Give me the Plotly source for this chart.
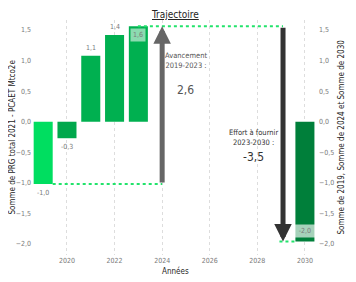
import plotly.graph_objects as go

years = [2019, 2020, 2021, 2022, 2023, 2030]
values = [-1.02, -0.27, 1.08, 1.42, 1.56, -1.96]
bar_colors = ["#00DE60", "#00A84C", "#00B050", "#00B050", "#00B050", "#007F3A"]
tick_vals = [-2.0, -1.5, -1.0, -0.5, 0.0, 0.5, 1.0, 1.5]
x_ticks = [2020, 2022, 2024, 2026, 2028, 2030]

title_text = "Trajectoire"
left_title = "Somme de PRG total 2021 - PCAET Mtco2e"
right_title = "Somme de 2019, Somme de 2024 et Somme de 2030"
x_title = "Années"

start_val = values[0]
mid_val = values[4]
end_val = values[-1]
progress = mid_val - start_val
effort = end_val - mid_val

FONT = "Liberation Sans Narrow, DejaVu Sans Condensed, Arial Narrow, sans-serif"
LBL = "#7a7a7a"

fig = go.Figure()
left_idx = [1, 2, 3, 4]
right_idx = [0, 5]
fig.add_trace(go.Bar(x=[years[i] for i in left_idx], y=[values[i] for i in left_idx],
                     marker=dict(color=[bar_colors[i] for i in left_idx], line=dict(width=0)),
                     width=0.8, yaxis="y", showlegend=False, hoverinfo="skip"))
fig.add_trace(go.Bar(x=[years[i] for i in right_idx], y=[values[i] for i in right_idx],
                     marker=dict(color=[bar_colors[i] for i in right_idx], line=dict(width=0)),
                     width=0.8, yaxis="y2", showlegend=False, hoverinfo="skip"))

ann = []
for i, (yr, v) in enumerate(zip(years, values)):
    txt = f"{v:.1f}".replace(".", ",")
    if i in (0, 1):
        ann.append(dict(x=yr, y=v, text=txt, showarrow=False, yshift=-9,
                        font=dict(size=7, color=LBL, family=FONT)))
    elif i in (2, 3):
        ann.append(dict(x=yr, y=v, text=txt, showarrow=False, yshift=8,
                        font=dict(size=7, color=LBL, family=FONT)))
    elif i == 4:
        ann.append(dict(x=yr, y=v, text=txt, showarrow=False, yshift=-9,
                        bgcolor="rgba(255,255,255,0.55)", borderpad=2,
                        font=dict(size=7, color=LBL, family=FONT)))
    else:
        ann.append(dict(x=yr, y=v, text=txt, showarrow=False, yshift=11,
                        bgcolor="rgba(255,255,255,0.65)", borderpad=2, width=16,
                        font=dict(size=7, color=LBL, family=FONT)))

arrow1_x = 2024
arrow2_x = years[-1] - 0.92
ann.append(dict(x=arrow1_x, y=mid_val, ax=arrow1_x, ay=start_val, xref="x", yref="y",
                axref="x", ayref="y", showarrow=True, arrowhead=2, arrowsize=0.7,
                arrowwidth=5, arrowcolor="#666666", text=""))
ann.append(dict(x=arrow2_x, y=end_val, ax=arrow2_x, ay=mid_val, xref="x", yref="y",
                axref="x", ayref="y", showarrow=True, arrowhead=2, arrowsize=0.7,
                arrowwidth=5, arrowcolor="#333333", text=""))

ann.append(dict(x=2025.0, y=1.0, text="Avancement<br>2019-2023 :", showarrow=False,
                xanchor="center", align="center", font=dict(size=7.5, color="#555555", family=FONT)))
ann.append(dict(x=2025.0, y=0.52, text=f"{progress:.1f}".replace(".", ","), showarrow=False,
                xanchor="center", font=dict(size=12, color="#555555", family=FONT)))
ann.append(dict(x=2027.85, y=-0.25, text="Effort à fournir<br>2023-2030 :", showarrow=False,
                xanchor="center", align="center", font=dict(size=7.5, color="#333333", family=FONT)))
ann.append(dict(x=2027.85, y=-0.57, text=f"{effort:.1f}".replace(".", ","), showarrow=False,
                xanchor="center", font=dict(size=12, color="#333333", family=FONT)))

ann.append(dict(x=0.5, y=1.0, xref="paper", yref="paper", yshift=6, yanchor="middle",
                xanchor="center", text=f"<u>{title_text}</u>",
                showarrow=False, font=dict(size=10, color="#252423", family=FONT)))
ann.append(dict(x=1.0, y=0.5, xref="paper", yref="paper", xshift=23, xanchor="center",
                yanchor="middle", text=right_title,
                textangle=-90, showarrow=False, font=dict(size=8, color="#252423", family=FONT)))
ann.append(dict(x=0.0, y=0.5, xref="paper", yref="paper", xshift=-20, xanchor="center",
                yanchor="middle", text=left_title,
                textangle=-90, showarrow=False, font=dict(size=8, color="#252423", family=FONT)))
ann.append(dict(x=0.5, y=0.0, xref="paper", yref="paper", yshift=-16, xanchor="center",
                yanchor="middle", text=x_title,
                showarrow=False, font=dict(size=8, color="#252423", family=FONT)))

shapes = [
    dict(type="line", x0=years[0] + 0.4, x1=arrow1_x, y0=start_val, y1=start_val, xref="x", yref="y",
         line=dict(color="#22E36B", width=2, dash="dot")),
    dict(type="line", x0=years[4] - 0.02, x1=arrow2_x, y0=mid_val, y1=mid_val, xref="x", yref="y",
         line=dict(color="#22E36B", width=2, dash="dot")),
    dict(type="line", x0=arrow2_x - 0.15, x1=years[-1] - 0.4, y0=end_val, y1=end_val, xref="x", yref="y",
         line=dict(color="#22E36B", width=2, dash="dot")),
]

yr = [-2.18, 1.664]
fig.update_layout(
    width=356, height=282,
    margin=dict(l=24, r=46, t=12, b=35, autoexpand=False),
    paper_bgcolor="white", plot_bgcolor="white",
    separators=", ",
    annotations=ann, shapes=shapes,
    font=dict(family=FONT),
    xaxis=dict(range=[2018.53, 2030.55], tickvals=x_ticks, showgrid=True, gridcolor="#dddddd",
               griddash="dot", gridwidth=1, zeroline=False, showline=False, ticks="",
               tickfont=dict(size=7, color=LBL), automargin=False),
    yaxis=dict(range=yr, tickvals=tick_vals, tickformat=".1f", showgrid=False, zeroline=False,
               ticks="", tickfont=dict(size=7, color=LBL), automargin=False),
    yaxis2=dict(range=yr, tickvals=tick_vals, tickformat=".1f", overlaying="y", side="right",
                showgrid=False, zeroline=False, ticks="", tickfont=dict(size=7, color=LBL),
                automargin=False),
)

fig.write_html("out.html")
